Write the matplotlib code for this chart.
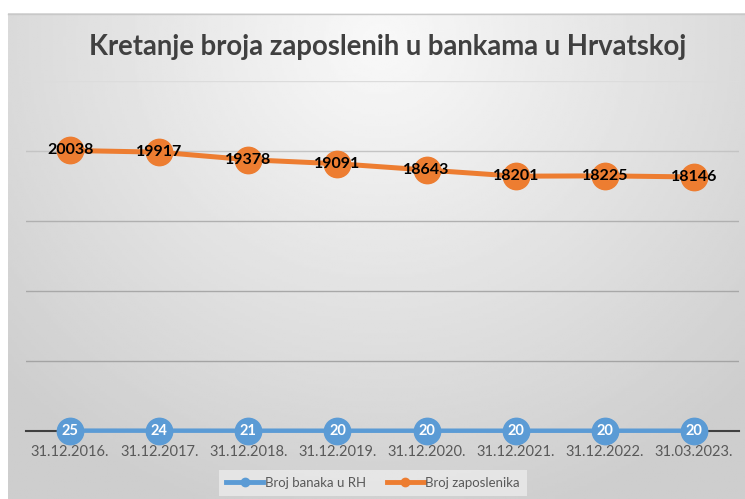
import numpy as np
import matplotlib
matplotlib.use('Agg')
import matplotlib.pyplot as plt
from matplotlib.lines import Line2D

# podaci
datumi = ['31.12.2016.', '31.12.2017.', '31.12.2018.', '31.12.2019.',
          '31.12.2020.', '31.12.2021.', '31.12.2022.', '31.03.2023.']
broj_banaka = [25, 24, 21, 20, 20, 20, 20, 20]
broj_zaposlenika = [20038, 19917, 19378, 19091, 18643, 18201, 18225, 18146]

plava = '#5B9BD5'
narancasta = '#ED7D31'

plt.rcParams['font.family'] = ['Lato', 'DejaVu Sans']

W, H = 745, 499
fig = plt.figure(figsize=(W / 100, H / 100), dpi=100)

# pozadina s gradijentom
bg = fig.add_axes([0, 0, 1, 1], zorder=0)
bg.set_xlim(0, W)
bg.set_ylim(H, 0)
bg.axis('off')
gx, gy = np.meshgrid(np.linspace(8, W, 300), np.linspace(13, H, 200))
d = np.sqrt(((gx - 380) / 520) ** 2 + ((gy - 40) / 500) ** 2)
d = np.clip(d, 0, 1)
img = 0.975 - 0.17 * d
bg.imshow(img, cmap='gray', vmin=0, vmax=1, extent=(8, W, H, 13), aspect='auto')
bg.plot([8, W], [13.5, 13.5], color='#c8c8c8', lw=1)

# glavni graf
ax = fig.add_axes([25.5 / W, (H - 431) / H, 713 / W, 350 / H], zorder=1)
ax.patch.set_alpha(0)
x = np.arange(len(datumi))
ax.set_xlim(-0.5, len(datumi) - 0.5)
ax.set_ylim(0, 25000)
for s in ['top', 'right', 'left']:
    ax.spines[s].set_visible(False)
ax.spines['bottom'].set_color('#404040')
ax.spines['bottom'].set_linewidth(1.5)
ax.set_yticks([5000, 10000, 15000, 20000, 25000])
ax.yaxis.grid(True, lw=1)
# gornje linije mreze su svjetlije
for gl, c in zip(ax.get_ygridlines(), ['#a4a4a4', '#a8a8a8', '#b0b0b0', '#c4c4c4', '#dcdcdc']):
    gl.set_color(c)
ax.tick_params(axis='y', left=False, labelleft=False)
ax.set_xticks(x)
ax.set_xticklabels(datumi, fontsize=10.5, color='#595959')
ax.tick_params(axis='x', length=0, pad=10)

ax.plot(x, broj_banaka, color=plava, lw=3.2, marker='o', ms=19, clip_on=False, zorder=3)
ax.plot(x, broj_zaposlenika, color=narancasta, lw=3.6, marker='o', ms=19, clip_on=False, zorder=3)

for xi, v in zip(x, broj_banaka):
    ax.text(xi, v, str(v), ha='center', va='center', color='white',
            fontsize=10.5, fontweight='bold', zorder=4)
for xi, v in zip(x, broj_zaposlenika):
    ax.text(xi, v, str(v), ha='center', va='center', color='black',
            fontsize=11.5, fontweight='bold', zorder=4)

fig.text(388 / W, 1 - 47 / H, 'Kretanje broja zaposlenih u bankama u Hrvatskoj',
         ha='center', va='center', fontsize=19.8, fontweight='bold', color='#404040')

legenda = [Line2D([0], [0], color=plava, lw=3.5, marker='o', ms=6),
           Line2D([0], [0], color=narancasta, lw=3.5, marker='o', ms=6)]
leg = fig.legend(legenda, ['Broj banaka u RH', 'Broj zaposlenika'], loc='center',
                 bbox_to_anchor=(373 / W, 1 - 483 / H), ncol=2, frameon=True,
                 fontsize=9.5, handlelength=2.8, handletextpad=0.1, columnspacing=1.6,
                 borderpad=0.55)
leg.get_frame().set_facecolor('#ebebeb')
leg.get_frame().set_edgecolor('none')
leg.get_frame().set_boxstyle('square', pad=0)
for t in leg.get_texts():
    t.set_color('#595959')

fig.savefig('out.png', dpi=100)
